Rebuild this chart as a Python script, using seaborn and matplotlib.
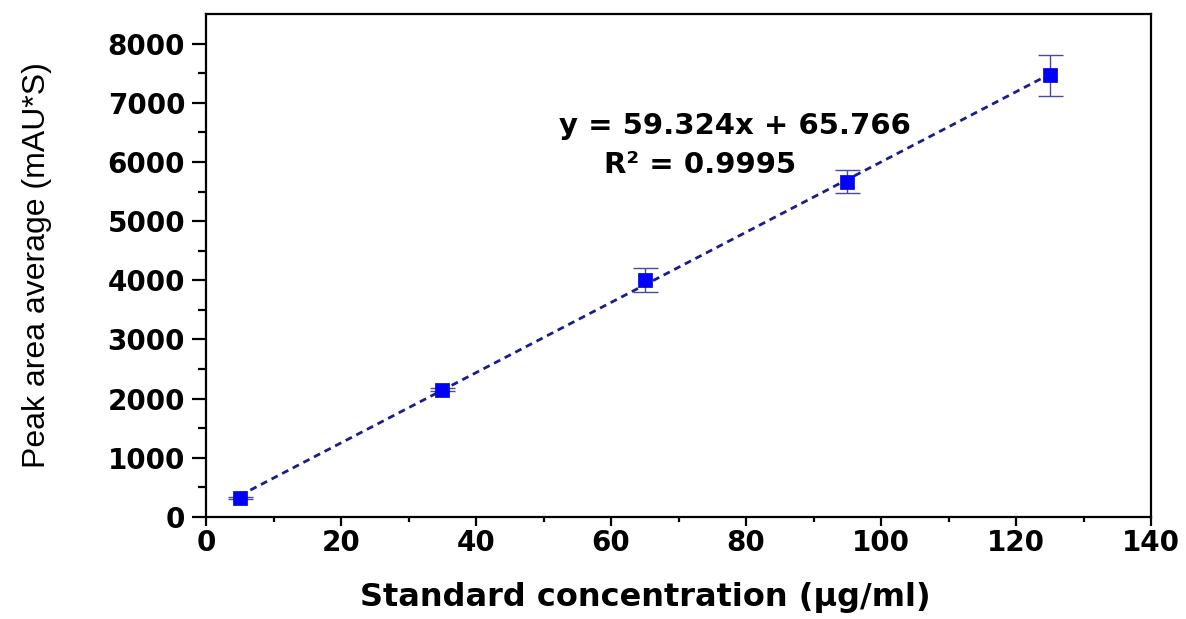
import numpy as np
import pandas as pd
import matplotlib
matplotlib.use("Agg")
import matplotlib.pyplot as plt
import seaborn as sns

# Calibration data
concentration = [5, 35, 65, 95, 125]          # µg/ml
peak_area = [321, 2149, 4010, 5668, 7462]     # mAU*S
peak_err = [15, 25, 200, 195, 340]

equation_text = "y = 59.324x + 65.766"
r2_text = "R\u00b2 = 0.9995"

x_ticks = [0, 20, 40, 60, 80, 100, 120, 140]
y_ticks = [0, 1000, 2000, 3000, 4000, 5000, 6000, 7000, 8000]

df = pd.DataFrame({"conc": concentration, "area": peak_area, "err": peak_err})

sns.set_style("ticks")
plt.rcParams["font.family"] = ["DejaVu Sans"]
plt.rcParams["font.weight"] = "bold"
plt.rcParams["text.color"] = "black"
plt.rcParams["axes.labelcolor"] = "black"
plt.rcParams["xtick.color"] = "black"
plt.rcParams["ytick.color"] = "black"

fig = plt.figure(figsize=(11.86, 6.19), dpi=100)
ax = fig.add_axes([0.1737, 0.1648, 0.9705 - 0.1737, 0.9774 - 0.1648])

# linear fit (dashed navy)
sns.regplot(data=df, x="conc", y="area", scatter=False, ci=None, ax=ax,
            line_kws=dict(color="#1c1c8c", lw=2, dashes=(2.5, 1.8), zorder=2))

# error bars
ax.errorbar(df["conc"], df["area"], yerr=df["err"], fmt="none",
            ecolor="#4a4a9a", elinewidth=1, capsize=9, capthick=1, zorder=3)

# points
sns.scatterplot(data=df, x="conc", y="area", marker="s", s=115, color="#0000ff",
                edgecolor="#0000cc", linewidth=0.5, zorder=4, ax=ax)

ax.set_xlim(0, 140)
ax.set_ylim(0, 8500)
ax.set_xticks(x_ticks)
ax.set_yticks(y_ticks)
ax.set_xticks(np.arange(10, 140, 20), minor=True)
ax.set_yticks(np.arange(500, 8500, 1000), minor=True)

for side in ["top", "right", "bottom", "left"]:
    ax.spines[side].set_visible(True)
    ax.spines[side].set_linewidth(1.6)
    ax.spines[side].set_color("black")

ax.tick_params(axis="x", which="major", length=6.5, width=1.6, pad=2, labelsize=20)
ax.tick_params(axis="x", which="minor", length=3.5, width=1.6)
ax.tick_params(axis="y", which="major", length=10, width=1.6, pad=5, labelsize=20)
ax.tick_params(axis="y", which="minor", length=5.5, width=1.6)
ax.tick_params(top=False, right=False, which="both")
for lab in ax.get_xticklabels() + ax.get_yticklabels():
    lab.set_fontweight("bold")

ax.set_xlabel("Standard concentration (\u03bcg/ml)", fontsize=23, fontweight="bold")
ax.xaxis.set_label_coords(0.4646, -0.13)
ax.set_ylabel("Peak area average (mAU*S)", fontsize=23,
              family=["Liberation Sans", "DejaVu Sans"], fontweight="normal")
ax.yaxis.set_label_coords(-0.163, 0.5)

ax.text(78.4, 6599, equation_text, ha="center", va="center", fontsize=21,
        fontweight="bold")
ax.text(73.2, 5956, r2_text, ha="center", va="center", fontsize=21,
        fontweight="bold")

ax.grid(False)
fig.savefig("out.png", dpi=100, facecolor="white")
